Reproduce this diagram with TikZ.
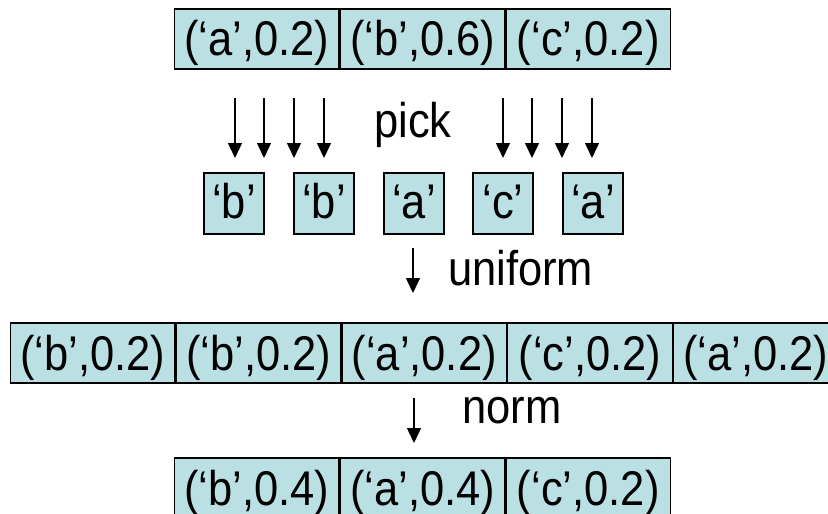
\documentclass[tikz,border=0pt]{standalone}
\usepackage{fontspec}
\usepackage{graphicx}
\setmainfont{Liberation Sans}
\usetikzlibrary{arrows.meta}
\definecolor{cellfill}{HTML}{BBE0E3}
\newcommand{\stretchtxt}[1]{\scalebox{1}[1.12]{#1}}
\begin{document}
\begin{tikzpicture}[x=1pt,y=-1pt,
  txt/.style={font=\fontsize{43.5}{50}\selectfont},
  cell/.style={txt,draw=black,line width=1.3pt,fill=cellfill,inner sep=0pt,
    text height=47pt,text depth=13pt,minimum width=164.4pt,anchor=west},
  sbox/.style={txt,draw=black,line width=1.3pt,fill=cellfill,inner sep=0pt,
    text height=45pt,text depth=16pt,minimum width=60pt},
  arr/.style={line width=1.4pt,-{Triangle[length=15pt,width=14pt]}},
  lbl/.style={txt,anchor=base west,inner sep=0pt}]
\useasboundingbox (0,0) rectangle (828,514);
\clip (0,0) rectangle (828,514);
% top row
\node[cell] (t1) at (174,39) {\stretchtxt{(‘a’,0.2)}};
\node[cell] (t2) at (t1.east) {\stretchtxt{(‘b’,0.6)}};
\node[cell] (t3) at (t2.east) {\stretchtxt{(‘c’,0.2)}};
% pick arrows
\foreach \x [count=\i] in {235,264,294,324,503,532,562,592}{
  \coordinate (ps\i) at (\x,98);
  \coordinate (pe\i) at (\x,158);
  \draw[arr] (ps\i) -- (pe\i);
}
\node[lbl] (pick) at (374,137) {\stretchtxt{pick}};
% picked boxes
\node[sbox] (s1) at (234,203.5) {\stretchtxt{‘b’}};
\node[sbox] (s2) at (324,203.5) {\stretchtxt{‘b’}};
\node[sbox] (s3) at (414,203.5) {\stretchtxt{‘a’}};
\node[sbox] (s4) at (503,203.5) {\stretchtxt{‘c’}};
\node[sbox] (s5) at (593,203.5) {\stretchtxt{‘a’}};
% uniform
\coordinate (us) at (413,248);
\coordinate (ue) at (413,293);
\draw[arr] (us) -- (ue);
\node[lbl] (uniform) at (448,285) {\stretchtxt{uniform}};
% middle row
\node[cell] (m1) at (10,353) {\stretchtxt{(‘b’,0.2)}};
\node[cell] (m2) at (m1.east) {\stretchtxt{(‘b’,0.2)}};
\node[cell] (m3) at (m2.east) {\stretchtxt{(‘a’,0.2)}};
\node[cell] (m4) at (m3.east) {\stretchtxt{(‘c’,0.2)}};
\node[cell] (m5) at (m4.east) {\stretchtxt{(‘a’,0.2)}};
% norm
\coordinate (ns) at (414,398);
\coordinate (ne) at (414,443);
\draw[arr] (ns) -- (ne);
\node[lbl] (norm) at (462,423) {\stretchtxt{norm}};
% bottom row
\node[cell] (b1) at (174,488) {\stretchtxt{(‘b’,0.4)}};
\node[cell] (b2) at (b1.east) {\stretchtxt{(‘a’,0.4)}};
\node[cell] (b3) at (b2.east) {\stretchtxt{(‘c’,0.2)}};
\end{tikzpicture}
\end{document}
